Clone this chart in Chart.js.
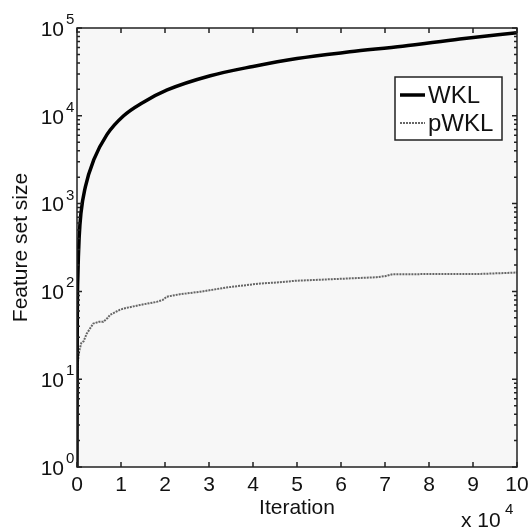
<!DOCTYPE html>
<html>
<head>
<meta charset="utf-8">
<script src="https://cdn.jsdelivr.net/npm/chart.js@4/dist/chart.umd.min.js"></script>
<style>
  html, body { margin: 0; padding: 0; background: #fff; }
  #wrap { position: relative; width: 532px; height: 529px; }
</style>
</head>
<body>
<div id="wrap"><canvas id="featChart"></canvas></div>
<script>
// x in units of 10^4 iterations
const wklX = [0, 0.005, 0.02, 0.05, 0.09, 0.19, 0.38, 0.68, 1.06, 1.5, 2.05, 3.03, 4.0, 5.0, 6.2, 7.4, 8.7, 10];
const wklY = [1, 30, 150, 420, 780, 1550, 3140, 6100, 10000, 14200, 19700, 28600, 36500, 45000, 53500, 62000, 75000, 88500];

const pwklX = [0, 0.005, 0.01, 0.05, 0.1, 0.15, 0.22, 0.37, 0.5, 0.6, 0.7, 0.75, 0.98, 1.13, 1.43, 1.81, 1.95, 2.04, 2.34, 2.8, 3.4, 4.16, 4.61, 4.95, 6.81, 7.0, 7.18, 9.16, 10];
const pwklY = [1, 10, 14, 21, 26, 27, 33, 43, 45, 45, 50, 54, 62, 65, 70, 76, 80, 87, 93, 99, 111, 123, 127, 132, 145, 149, 157, 158, 164];

const xTicks = [0, 1, 2, 3, 4, 5, 6, 7, 8, 9, 10];
const yExps = [0, 1, 2, 3, 4, 5];
const seriesNames = ['WKL', 'pWKL'];

const FONT = 'Arial, "Liberation Sans", sans-serif';

function pts(xs, ys) {
    return xs.map(function(x, i) { return { x: x, y: ys[i] }; });
}

// frame, inward ticks, tick labels, axis titles, legend
const decorPlugin = {
    id: 'decor',
    beforeDatasetsDraw: function(chart) {
        const ctx = chart.ctx, a = chart.chartArea;
        ctx.save();
        ctx.fillStyle = '#f7f7f7';
        ctx.fillRect(a.left, a.top, a.right - a.left, a.bottom - a.top);
        ctx.restore();
    },
    afterDraw: function(chart) {
        const ctx = chart.ctx, a = chart.chartArea;
        const xs = chart.scales.x, ys = chart.scales.y;
        ctx.save();
        ctx.strokeStyle = '#222';
        ctx.lineWidth = 1.5;
        ctx.strokeRect(a.left, a.top, a.right - a.left, a.bottom - a.top);

        // x ticks
        ctx.beginPath();
        xTicks.forEach(function(t) {
            const px = xs.getPixelForValue(t);
            ctx.moveTo(px, a.bottom); ctx.lineTo(px, a.bottom - 5);
            ctx.moveTo(px, a.top); ctx.lineTo(px, a.top + 5);
        });
        // y ticks (major + minor)
        yExps.forEach(function(e) {
            const py = ys.getPixelForValue(Math.pow(10, e));
            ctx.moveTo(a.left, py); ctx.lineTo(a.left + 5, py);
            ctx.moveTo(a.right, py); ctx.lineTo(a.right - 5, py);
            if (e < 5) {
                for (let m = 2; m <= 9; m++) {
                    const q = ys.getPixelForValue(m * Math.pow(10, e));
                    ctx.moveTo(a.left, q); ctx.lineTo(a.left + 3, q);
                    ctx.moveTo(a.right, q); ctx.lineTo(a.right - 3, q);
                }
            }
        });
        ctx.stroke();

        ctx.fillStyle = '#111';
        // x tick labels
        ctx.font = '21px ' + FONT;
        ctx.textAlign = 'center';
        ctx.textBaseline = 'top';
        xTicks.forEach(function(t) {
            ctx.fillText(String(t), xs.getPixelForValue(t), a.bottom + 8);
        });
        // y tick labels 10^e
        yExps.forEach(function(e) {
            const py = ys.getPixelForValue(Math.pow(10, e));
            ctx.font = '21px ' + FONT;
            ctx.textAlign = 'right';
            ctx.textBaseline = 'middle';
            ctx.fillText('10', a.left - 13, py + 2);
            ctx.font = '15px ' + FONT;
            ctx.textAlign = 'left';
            ctx.textBaseline = 'alphabetic';
            ctx.fillText(String(e), a.left - 11, py - 4);
        });

        // axis titles
        ctx.font = '21px ' + FONT;
        ctx.textAlign = 'center';
        ctx.textBaseline = 'middle';
        ctx.fillText('Iteration', (a.left + a.right) / 2, 508);
        ctx.save();
        ctx.translate(21, (a.top + a.bottom) / 2);
        ctx.rotate(-Math.PI / 2);
        ctx.fillText('Feature set size', 0, 0);
        ctx.restore();

        // x 10^4 multiplier
        ctx.textAlign = 'left';
        ctx.textBaseline = 'alphabetic';
        ctx.font = '21px ' + FONT;
        ctx.fillText('x 10', 461, 527);
        ctx.font = '15px ' + FONT;
        ctx.fillText('4', 505, 514);

        // legend
        const lx = 395, ly = 77, lw = 107, lh = 63;
        ctx.fillStyle = '#fff';
        ctx.fillRect(lx, ly, lw, lh);
        ctx.strokeStyle = '#222';
        ctx.lineWidth = 1.5;
        ctx.strokeRect(lx, ly, lw, lh);
        const ds = chart.data.datasets;
        [95, 123].forEach(function(yy, i) {
            ctx.save();
            ctx.strokeStyle = ds[i].borderColor;
            ctx.lineWidth = ds[i].borderWidth;
            ctx.setLineDash(ds[i].borderDash || []);
            ctx.beginPath();
            ctx.moveTo(400, yy); ctx.lineTo(425, yy);
            ctx.stroke();
            ctx.restore();
            ctx.fillStyle = '#111';
            ctx.font = '24px ' + FONT;
            ctx.textBaseline = 'middle';
            ctx.fillText(seriesNames[i], 428, yy + 1);
        });
        ctx.restore();
    }
};

new Chart(document.getElementById('featChart').getContext('2d'), {
    type: 'line',
    data: {
        datasets: [{
            label: seriesNames[0],
            data: pts(wklX, wklY),
            borderColor: '#000',
            borderWidth: 3.5,
            pointRadius: 0,
            cubicInterpolationMode: 'monotone',
            fill: false
        }, {
            label: seriesNames[1],
            data: pts(pwklX, pwklY),
            borderColor: '#666',
            borderWidth: 2,
            borderDash: [2, 1],
            pointRadius: 0,
            tension: 0,
            fill: false
        }]
    },
    options: {
        responsive: true,
        maintainAspectRatio: false,
        animation: false,
        layout: { padding: { left: 77, top: 28, right: 15, bottom: 62 } },
        plugins: { legend: { display: false }, tooltip: { enabled: false } },
        scales: {
            x: { type: 'linear', min: 0, max: 10, display: false },
            y: { type: 'logarithmic', min: 1, max: 100000, display: false }
        }
    },
    plugins: [decorPlugin]
});
</script>
</body>
</html>
